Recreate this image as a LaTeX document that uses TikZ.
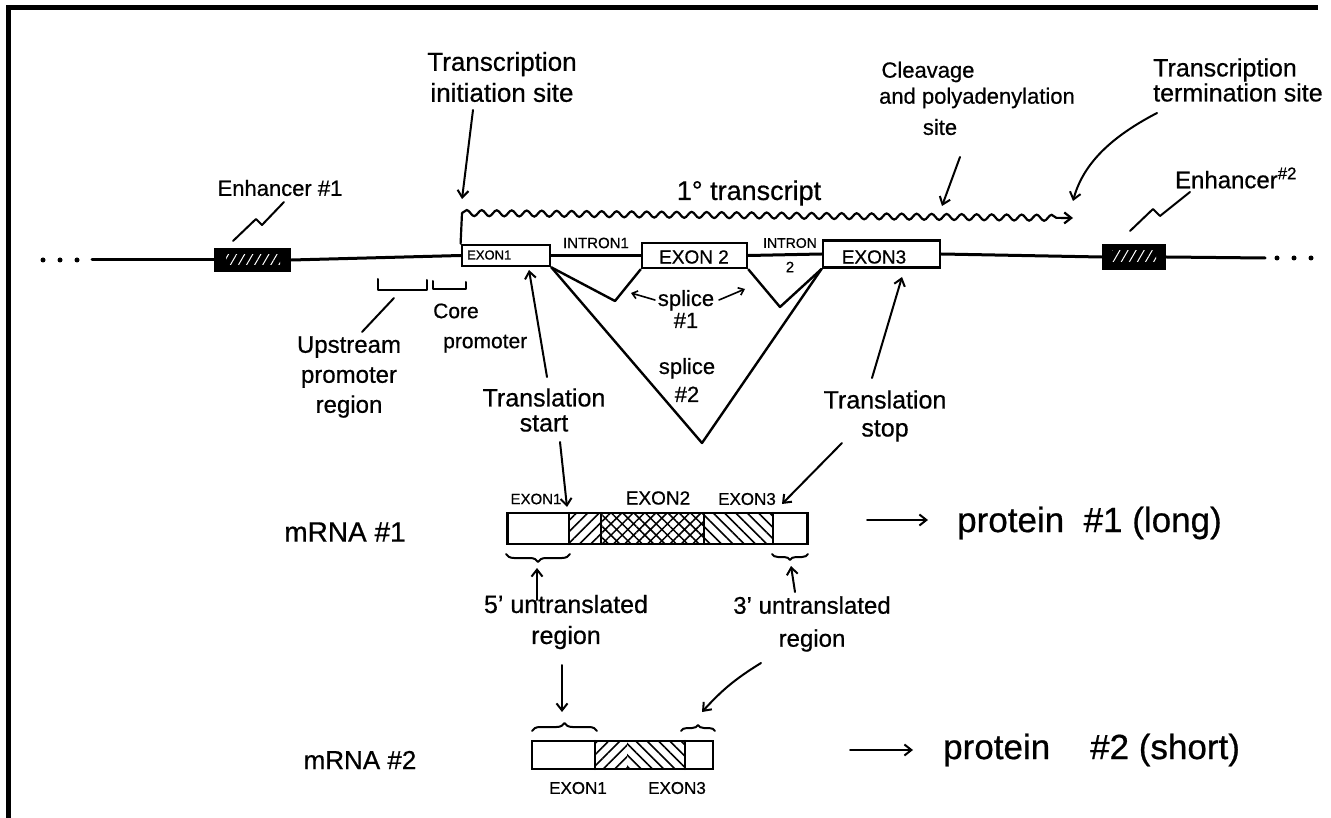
\documentclass[tikz,border=0pt]{standalone}
\usepackage{fontspec}
\setmainfont{Liberation Sans}[FakeBold=0.6]
\usetikzlibrary{arrows.meta,patterns.meta,decorations.pathmorphing,decorations.pathreplacing}
\newcommand\fsz[2]{\fontsize{#1}{#2}\selectfont}
\tikzset{
  ln/.style={line width=3pt, line cap=round, line join=round},
  tln/.style={line width=2pt, line cap=round, line join=round},
  arr/.style={line width=2pt, line cap=round, -{Straight Barb[length=7pt,width=11pt]}},
  sarr/.style={line width=1.6pt, line cap=round, -{Straight Barb[length=5pt,width=8pt]}},
  exbox/.style={draw, line width=2.8pt, inner sep=0pt, fill=white},
  enh/.style={draw, line width=2.8pt, inner sep=0pt, fill=black},
  bar/.style={draw, line width=2.8pt, inner sep=0pt},
  lbl/.style={inner sep=0pt, align=center},
  lineshatch/.style={pattern={Lines[angle=#1,distance=8pt,line width=1.6pt]}},
}
\begin{document}
\begin{tikzpicture}[x=1pt,y=-1pt]
\useasboundingbox (0,0) rectangle (1331,818);
\fill[white] (0,0) rectangle (1331,818);
% frame
\coordinate (fbl) at (8,818);
\coordinate (ftl) at (8,8);
\coordinate (ftr) at (1318,8);
\draw[line width=5pt] (fbl) -- (ftl) -- (ftr);

% ---------------- gene (DNA) ----------------
\foreach \x in {43,60,77} \fill (\x,260) circle (2.5);
\foreach \x in {1277,1294,1311} \fill (\x,258) circle (2.5);

\node[enh, minimum width=75pt, minimum height=22pt] (enh1) at (252.5,260) {};
\node[exbox, minimum width=88pt, minimum height=21pt] (ex1) at (506,255.5) {};
\node[exbox, minimum width=105pt, minimum height=25pt] (ex2) at (694.5,255.5) {};
\node[exbox, minimum width=117pt, minimum height=27pt] (ex3) at (881.5,254) {};
\node[enh, minimum width=62pt, minimum height=23pt] (enh2) at (1134,257) {};
\fill[pattern={Lines[angle=60,distance=7pt,line width=1pt]}, pattern color=white] (226,255) rectangle (280,265);
\fill[pattern={Lines[angle=60,distance=7pt,line width=1pt]}, pattern color=white] (1112,251) rectangle (1156,262);

\coordinate (d0) at (92,260);
\coordinate (d1) at (1265,258);
\draw[ln] (d0) -- (enh1.west);
\draw[ln] (enh1.east) -- (ex1.west);
\draw[ln] (ex1.east) -- (ex2.west);
\draw[ln] (ex2.east) -- (ex3.west);
\draw[ln] (ex3.east) -- (enh2.west);
\draw[ln] (enh2.east) -- (d1);

\node[lbl, font=\fsz{13}{15}, anchor=west] (ex1t) at (467,255) {EXON1};
\node[lbl, font=\fsz{19}{22}] (ex2t) at (694,257) {EXON 2};
\node[lbl, font=\fsz{19}{22}] (ex3t) at (874,257) {EXON3};
\node[lbl, font=\fsz{15}{17}] (in1t) at (596,243) {INTRON1};
\node[lbl, font=\fsz{14}{16}] (in2t) at (790,243) {INTRON};
\node[lbl, font=\fsz{15}{17}] (in2n) at (790,267) {2};

% enhancer labels
\node[lbl, font=\fsz{22}{26}] (e1t) at (280,188) {Enhancer \#1};
\coordinate (z1a) at (233,241);
\coordinate (z1b) at (284,202);
\draw[tln] (z1a) -- (256,219) -- (262,225) -- (z1b);
\node[lbl, font=\fsz{24}{26}] (e2t) at (1236,178) {Enhancer\textsuperscript{\#2}};
\coordinate (z2a) at (1130,231);
\coordinate (z2b) at (1190,192);
\draw[tln] (z2a) -- (1153,209) -- (1160,216) -- (z2b);

% splices
\coordinate (v1) at (615,301);
\coordinate (v2) at (780,307);
\coordinate (v3) at (702,443);
\draw[ln, line width=2.4pt] (ex1.south east) -- (v1) -- (ex2.south west);
\draw[ln, line width=2.4pt] (ex2.south east) -- (v2) -- (ex3.south west);
\draw[ln, line width=2.4pt] (ex1.south east) -- (v3) -- (ex3.south west);
\node[lbl, font=\fsz{22}{22}] (sp1) at (686,309) {splice\\\#1};
\coordinate (sa0) at (655,300);
\coordinate (sa1) at (631,293);
\coordinate (sb0) at (719,300);
\coordinate (sb1) at (745,289);
\draw[sarr] (sa0) -- (sa1);
\draw[sarr] (sb0) -- (sb1);
\node[lbl, font=\fsz{22}{28}] (sp2) at (687,380) {splice\\\#2};

% primary transcript
\coordinate (ts1) at (462,213);
\coordinate (ts2) at (1073,218);
\draw[ln, line width=2.2pt] (ex1.north west) -- (ts1);
\draw[line width=2.2pt, decorate, decoration={snake, segment length=15pt, amplitude=3pt, post length=10pt}, -{Straight Barb[length=7pt,width=11pt]}] (ts1) -- (ts2);
\node[lbl, font=\fsz{27}{30}] (trt) at (749,193) {1° transcript};

% transcription initiation site
\node[lbl, font=\fsz{26}{31}] (tis) at (502,77) {Transcription\\initiation site};
\coordinate (tisA) at (473,110);
\coordinate (tisB) at (462,199);
\draw[arr] (tisA) -- (tisB);

% cleavage
\node[lbl, font=\fsz{22}{26}] (cl1) at (928,72) {Cleavage};
\node[lbl, font=\fsz{22}{26}] (cl2) at (977,98) {and polyadenylation};
\node[lbl, font=\fsz{22}{26}] (cl3) at (940,127) {site};
\coordinate (clA) at (960,157);
\coordinate (clB) at (942,206);
\draw[arr] (clA) -- (clB);

% termination
\node[lbl, align=left, anchor=west, font=\fsz{25}{25}] (tts) at (1153,80) {Transcription\\termination site};
\coordinate (ttA) at (1157,113);
\coordinate (ttB) at (1073,201);
\draw[arr] (ttA) .. controls (1105,140) and (1082,168) .. (ttB);

% promoter
\draw[tln] (378,279) -- (378,290) -- (427,290) -- (427,280);
\draw[tln] (433,281) -- (433,289) -- (466,289) -- (466,282);
\coordinate (upA) at (394,298);
\coordinate (upB) at (362,332);
\draw[tln] (upA) -- (upB);
\node[lbl, font=\fsz{24}{30}] (upr) at (349,377) {Upstream\\promoter\\region};
\node[lbl, align=left, anchor=west, font=\fsz{21}{30}] (core) at (433,328) {Core\\\hspace*{10pt}promoter};

% translation start / stop
\node[lbl, font=\fsz{25}{25}] (tst) at (544,410) {Translation\\start};
\coordinate (tsA) at (547,377);
\coordinate (tsB) at (529,270);
\draw[arr] (tsA) -- (tsB);
\coordinate (tsC) at (560,442);
\coordinate (tsD) at (567,507);
\draw[arr] (tsC) -- (tsD);

\node[lbl, font=\fsz{25}{28}] (tsp) at (885,416) {Translation\\stop};
\coordinate (tpA) at (872,378);
\coordinate (tpB) at (902,277);
\draw[arr] (tpA) -- (tpB);
\coordinate (tpC) at (842,443);
\coordinate (tpD) at (782,504);
\draw[arr] (tpC) -- (tpD);

% ---------------- mRNA #1 ----------------
\node[lbl, font=\fsz{28}{30}] (m1t) at (345,532) {mRNA \#1};
\fill[lineshatch=45] (569,513) rectangle (601,544);
\fill[pattern={Hatch[angle=45,distance=8pt,line width=1.5pt]}] (601,513) rectangle (704,544);
\fill[lineshatch=-45] (704,513) rectangle (773,544);
\node[bar, minimum width=300pt, minimum height=31pt] (m1) at (657.5,528.5) {};
\draw[ln, line width=2.4pt] (569,513) -- (569,544);
\draw[ln, line width=2.4pt] (601,513) -- (601,544);
\draw[ln, line width=2.4pt] (704,513) -- (704,544);
\draw[ln, line width=2.4pt] (773,513) -- (773,544);
\node[lbl, font=\fsz{15}{17}] (m1e1) at (536,499) {EXON1};
\node[lbl, font=\fsz{19}{21}] (m1e2) at (658,498) {EXON2};
\node[lbl, font=\fsz{17}{19}] (m1e3) at (747,499) {EXON3};

\draw[tln, decorate, decoration={brace, mirror, amplitude=8pt}] (506,554) -- (570,554);
\draw[tln, decorate, decoration={brace, mirror, amplitude=6pt}] (772,554) -- (808,554);
\coordinate (b1A) at (537,600);
\coordinate (b1B) at (537,568);
\draw[arr] (b1A) -- (b1B);
\coordinate (b2A) at (795,592);
\coordinate (b2B) at (791,566);
\draw[arr] (b2A) -- (b2B);

\node[lbl, font=\fsz{25}{31}] (u5) at (566,622) {5' untranslated\\region};
\node[lbl, font=\fsz{24}{33}] (u3) at (812,624) {3' untranslated\\region};

\coordinate (p1a) at (867,520);
\coordinate (p1b) at (928,520);
\draw[arr] (p1a) -- (p1b);
\node[lbl, anchor=west, font=\fsz{35}{38}] (p1t) at (957,523) {protein~~\#1 (long)};

% ---------------- mRNA #2 ----------------
\coordinate (c1A) at (562,665);
\coordinate (c1B) at (562,712);
\draw[arr] (c1A) -- (c1B);
\coordinate (c2A) at (761,663);
\coordinate (c2B) at (702,712);
\draw[arr] (c2A) to[bend right=8] (c2B);

\node[lbl, font=\fsz{26}{30}] (m2t) at (360,760) {mRNA \#2};
\fill[lineshatch=45] (595,741) rectangle (627,769);
\fill[lineshatch=-45] (627,741) rectangle (685,769);
\node[bar, minimum width=181pt, minimum height=28pt] (m2) at (622.5,755) {};
\draw[ln, line width=2.4pt] (595,741) -- (595,769);
\draw[ln, line width=2.4pt] (685,741) -- (685,769);
\draw[tln, decorate, decoration={brace, amplitude=8pt}] (532,731) -- (597,731);
\draw[tln, decorate, decoration={brace, amplitude=6pt}] (681,731) -- (715,731);
\node[lbl, font=\fsz{17}{19}] (m2e1) at (578,788) {EXON1};
\node[lbl, font=\fsz{17}{19}] (m2e3) at (677,788) {EXON3};

\coordinate (p2a) at (850,750);
\coordinate (p2b) at (913,750);
\draw[arr] (p2a) -- (p2b);
\node[lbl, anchor=west, font=\fsz{35}{38}] (p2t) at (943,750) {protein\hspace{40pt}\#2 (short)};
\end{tikzpicture}
\end{document}
